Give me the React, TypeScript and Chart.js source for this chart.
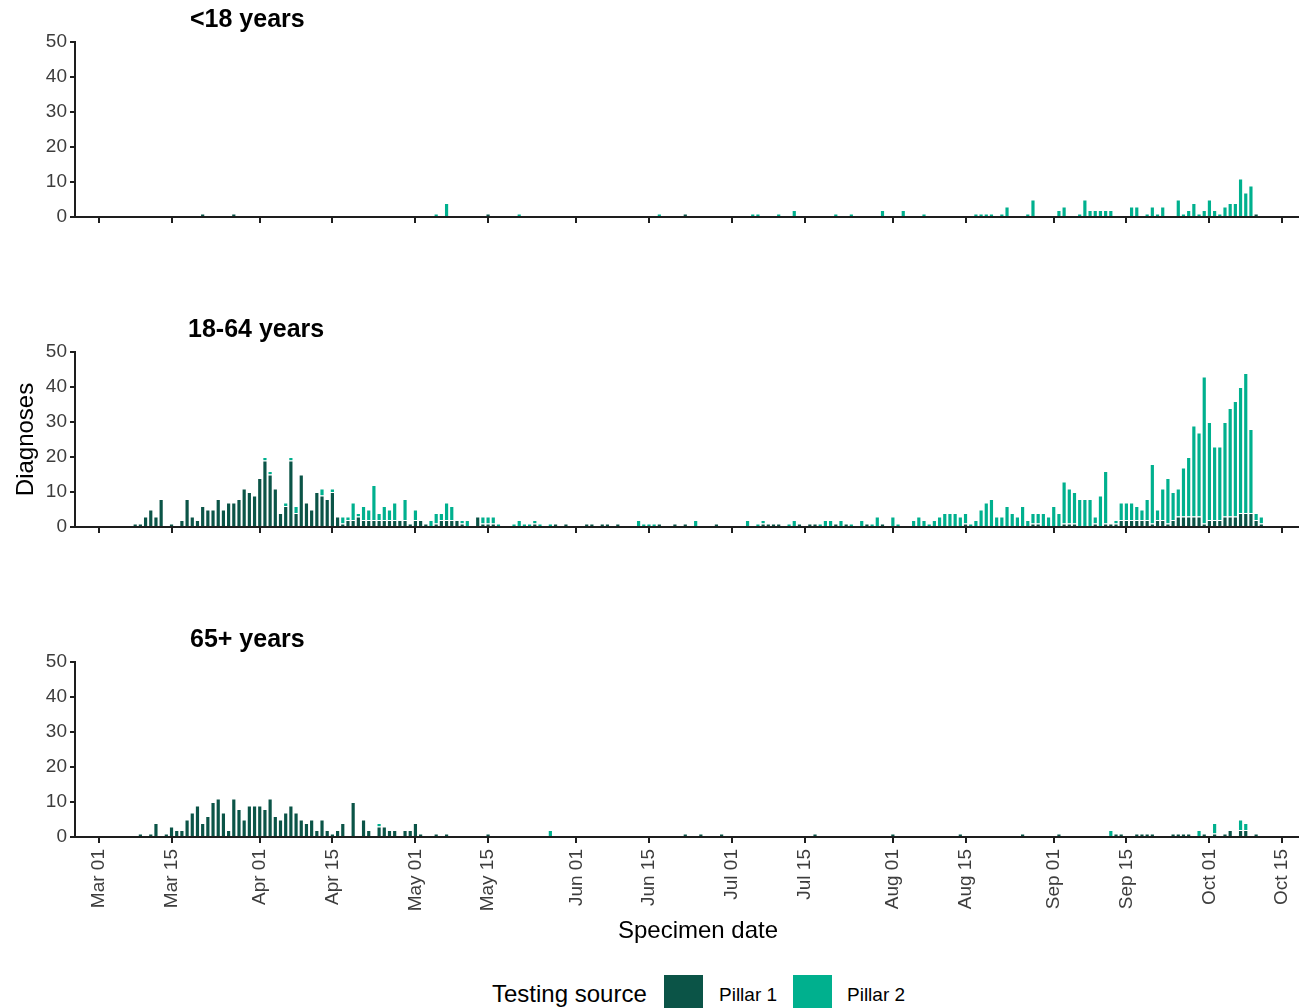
import React, { useEffect, useRef } from 'react';
import { Chart, registerables } from 'chart.js';

Chart.register(...registerables);

const FONT = '"Liberation Sans", Arial, Helvetica, sans-serif';
Chart.defaults.font.family = FONT;

// ---- categories / labels ----
const AGE_GROUPS = ['<18 years', '18-64 years', '65+ years'];
const SERIES_NAMES = ['Pillar 1', 'Pillar 2'];
const LEGEND_TITLE = 'Testing source';
const X_TITLE = 'Specimen date';
const Y_TITLE = 'Diagnoses';
// x values are days since 01 Mar (index 0 = Mar 01 ... index 224 = Oct 11)
const X_TICK_DAYS = [0, 14, 31, 45, 61, 75, 92, 106, 122, 136, 153, 167, 184, 198, 214, 228];
const X_TICK_LABELS = ['Mar 01', 'Mar 15', 'Apr 01', 'Apr 15', 'May 01', 'May 15', 'Jun 01', 'Jun 15',
  'Jul 01', 'Jul 15', 'Aug 01', 'Aug 15', 'Sep 01', 'Sep 15', 'Oct 01', 'Oct 15'];
const Y_MAX = 50;
const Y_STEP = 10;

// ---- daily values (Mar 01 .. Oct 11), one line per month ----
const U18_PILLAR1 = [
  0,0,0,0,0,0,0,0,0,0, 0,0,0,0,0,0,0,0,0,0, 1,0,0,0,0,0,1,0,0,0, 0, // Mar
  0,0,0,0,0,0,0,0,0,0, 0,0,0,0,0,0,0,0,0,0, 0,0,0,0,0,0,0,0,0,0, // Apr
  0,0,0,0,0,0,0,0,0,0, 0,0,0,0,1,0,0,0,0,0, 0,0,0,0,0,0,0,0,0,0, 0, // May
  0,0,0,0,0,0,0,0,0,0, 0,0,0,0,0,0,0,0,0,0, 0,1,0,0,0,0,0,0,0,0, // Jun
  0,0,0,0,0,0,0,0,0,0, 0,0,0,0,0,0,0,0,0,0, 0,0,0,0,0,0,0,0,0,0, 0, // Jul
  0,0,0,0,0,0,0,0,0,0, 0,0,0,0,0,0,0,0,0,0, 0,0,0,0,0,0,0,0,0,0, 0, // Aug
  0,0,0,0,0,0,0,0,0,0, 0,0,0,0,0,0,0,0,0,0, 0,0,0,0,0,0,0,0,0,0, // Sep
  0,0,0,0,0,0,0,0,0,1,0, // Oct
];
const U18_PILLAR2 = [
  0,0,0,0,0,0,0,0,0,0, 0,0,0,0,0,0,0,0,0,0, 0,0,0,0,0,0,0,0,0,0, 0, // Mar
  0,0,0,0,0,0,0,0,0,0, 0,0,0,0,0,0,0,0,0,0, 0,0,0,0,0,0,0,0,0,0, // Apr
  0,0,0,0,1,0,4,0,0,0, 0,0,0,0,0,0,0,0,0,0, 1,0,0,0,0,0,0,0,0,0, 0, // May
  0,0,0,0,0,0,0,0,0,0, 0,0,0,0,0,0,1,0,0,0, 0,0,0,0,0,0,0,0,0,0, // Jun
  0,0,0,0,1,1,0,0,0,1, 0,0,2,0,0,0,0,0,0,0, 1,0,0,1,0,0,0,0,0,2, 0, // Jul
  0,0,2,0,0,0,1,0,0,0, 0,0,0,0,0,0,1,1,1,1, 0,1,3,0,0,0,1,5,0,0, 0, // Aug
  0,2,3,0,0,1,5,2,2,2, 2,2,0,0,0,3,3,0,1,3, 1,3,0,0,5,1,2,4,1,2, // Sep
  5,2,1,3,4,4,11,7,9,0,0, // Oct
];
const ADULT_PILLAR1 = [
  0,0,0,0,0,0,0,1,1,3, 5,3,8,0,1,0,2,8,3,2, 6,5,5,8,5,7,7,8,11,10, 9, // Mar
  14,19,15,11,4,6,19,4,15,7, 5,10,9,8,10,3,1,2,2,3, 2,2,2,2,2,2,2,2,2,1, // Apr
  2,2,1,0,1,2,2,2,2,1, 0,0,3,1,1,1,0,0,0,0, 0,0,0,1,0,0,0,1,0,1, 0, // May
  0,0,1,1,0,1,1,0,1,0, 0,0,0,0,0,0,1,0,0,1, 0,1,0,0,0,0,0,1,0,0, // Jun
  0,0,0,0,0,0,1,1,1,1, 0,0,0,1,0,1,1,0,0,0, 1,0,1,0,0,0,1,0,0,1, 0, // Jul
  0,0,0,0,0,0,0,0,0,0, 0,0,0,0,1,0,0,0,0,0, 0,0,0,0,0,0,0,1,1,0, 0, // Aug
  0,0,1,1,1,0,0,0,1,0, 1,1,1,2,2,2,2,2,2,1, 2,2,1,2,3,3,3,3,3,1, // Sep
  2,2,2,3,3,3,4,4,4,2,1, // Oct
];
const ADULT_PILLAR2 = [
  0,0,0,0,0,0,0,0,0,0, 0,0,0,0,0,0,0,0,0,0, 0,0,0,0,0,0,0,0,0,0, 0, // Mar
  0,1,1,0,0,1,1,2,0,0, 0,0,2,0,1,0,2,1,5,1, 4,3,10,2,4,3,5,0,6,0, // Apr
  3,0,0,2,3,2,5,4,0,1, 2,0,0,2,2,2,1,0,0,1, 2,1,1,1,1,0,1,0,0,0, 0, // May
  0,0,0,0,0,0,0,0,0,0, 0,0,2,1,1,1,0,0,0,0, 0,0,0,2,0,0,0,0,0,0, // Jun
  0,0,0,2,0,1,1,0,0,0, 0,1,2,0,0,0,0,1,2,2, 0,2,0,1,0,2,0,1,3,0, 0, // Jul
  3,1,0,0,2,3,2,1,2,3, 4,4,4,3,3,1,2,5,7,8, 3,3,6,4,3,6,2,3,3,4, 3, // Aug
  6,4,12,10,9,8,8,8,2,9, 15,0,1,5,5,5,4,3,6,17, 3,9,13,8,8,14,17,26,24,42, // Sep
  28,21,21,27,31,33,36,40,24,2,2, // Oct
];
const ELDERLY_PILLAR1 = [
  0,0,0,0,0,0,0,0,1,0, 1,4,0,1,3,2,2,5,7,9, 4,6,10,11,7,2,11,8,5,9, 9, // Mar
  9,8,11,6,5,7,9,7,5,4, 5,2,5,2,1,2,4,0,10,0, 5,2,0,3,3,2,2,0,2,2, // Apr
  4,1,0,0,1,0,1,0,0,0, 0,0,0,0,1,0,0,0,0,0, 0,0,0,0,0,0,0,0,0,0, 0, // May
  0,0,0,0,0,0,0,0,0,0, 0,0,0,0,0,0,0,0,0,0, 0,1,0,0,1,0,0,0,1,0, // Jun
  0,0,0,0,0,0,0,0,0,0, 0,0,0,0,0,0,1,0,0,0, 0,0,0,0,0,0,0,0,0,0, 0, // Jul
  1,0,0,0,0,0,0,0,0,0, 0,0,0,1,0,0,0,0,0,0, 0,0,0,0,0,1,0,0,0,0, 0, // Aug
  0,1,0,0,0,0,0,0,0,0, 0,0,1,1,0,0,1,1,1,1, 0,0,0,1,1,1,1,0,0,1, // Sep
  0,1,0,1,2,0,2,2,0,1,0, // Oct
];
const ELDERLY_PILLAR2 = [
  0,0,0,0,0,0,0,0,0,0, 0,0,0,0,0,0,0,0,0,0, 0,0,0,0,0,0,0,0,0,0, 0, // Mar
  0,0,0,0,0,0,0,0,0,0, 0,0,0,0,0,0,0,0,0,0, 0,0,0,1,0,0,0,0,0,0, // Apr
  0,0,0,0,0,0,0,0,0,0, 0,0,0,0,0,0,0,0,0,0, 0,0,0,0,0,0,2,0,0,0, 0, // May
  0,0,0,0,0,0,0,0,0,0, 0,0,0,0,0,0,0,0,0,0, 0,0,0,0,0,0,0,0,0,0, // Jun
  0,0,0,0,0,0,0,0,0,0, 0,0,0,0,0,0,0,0,0,0, 0,0,0,0,0,0,0,0,0,0, 0, // Jul
  0,0,0,0,0,0,0,0,0,0, 0,0,0,0,0,0,0,0,0,0, 0,0,0,0,0,0,0,0,0,0, 0, // Aug
  0,0,0,0,0,0,0,0,0,0, 0,2,0,0,0,0,0,0,0,0, 0,0,0,0,0,0,0,0,2,0, // Sep
  0,3,0,0,0,0,3,2,0,0,0, // Oct
];

// ---- styles ----
const C_P1 = '#0b5447';
const C_P2 = '#00b08e';
const C_AXIS = '#1e1e1e';
const C_TICK = '#3d3d3d';
const C_TEXT = '#000000';

const CANVAS_W = 1322;
const X_MIN = -4.6;
const X_MAX = 235.5;

type PanelProps = {
  top: number;
  height: number;
  axisHeight: number;
  p1: number[];
  p2: number[];
  showLabels?: boolean;
  yTitle?: string;
  xTitle?: string;
};

function Panel({ top, height, axisHeight, p1, p2, showLabels, yTitle, xTitle }: PanelProps) {
  const ref = useRef<HTMLCanvasElement | null>(null);
  useEffect(() => {
    if (!ref.current) return;
    const mk = (vals: number[]) => vals.map((v, i) => ({ x: i, y: v }));
    const chart = new Chart(ref.current, {
      type: 'bar',
      data: {
        datasets: [
          {
            label: SERIES_NAMES[0], data: mk(p1), backgroundColor: C_P1, borderColor: '#ffffff',
            borderWidth: 1, barPercentage: 1, categoryPercentage: 1, inflateAmount: 0,
          },
          {
            label: SERIES_NAMES[1], data: mk(p2), backgroundColor: C_P2, borderColor: '#ffffff',
            borderWidth: 1, barPercentage: 1, categoryPercentage: 1, inflateAmount: 0,
          },
        ],
      } as any,
      options: {
        animation: false,
        responsive: false,
        maintainAspectRatio: false,
        layout: { padding: { top: 42, left: 0, right: 1, bottom: 0 } },
        plugins: { legend: { display: false }, tooltip: { enabled: false }, title: { display: false } },
        scales: {
          x: {
            type: 'linear',
            stacked: true,
            min: X_MIN,
            max: X_MAX,
            offset: false,
            afterBuildTicks: (s: any) => { s.ticks = X_TICK_DAYS.map((v) => ({ value: v })); },
            afterFit: (s: any) => { s.height = axisHeight; },
            grid: { offset: false, drawOnChartArea: false, drawTicks: true, tickLength: 6, color: C_AXIS, lineWidth: 2 },
            border: { display: true, color: C_AXIS, width: 2 },
            ticks: {
              display: !!showLabels,
              autoSkip: false,
              minRotation: 90,
              maxRotation: 90,
              padding: 6,
              color: C_TICK,
              font: { family: FONT, size: 19 },
              callback: (v: any) => {
                const k = X_TICK_DAYS.indexOf(Number(v));
                return k >= 0 ? X_TICK_LABELS[k] : null;
              },
            },
            title: {
              display: !!xTitle,
              text: xTitle || '',
              color: C_TEXT,
              font: { family: FONT, size: 24 },
              padding: { top: 4, bottom: 4 },
            },
          },
          y: {
            stacked: true,
            min: 0,
            max: Y_MAX,
            afterFit: (s: any) => { s.width = 75; },
            grid: { offset: false, drawOnChartArea: false, drawTicks: true, tickLength: 5, color: C_AXIS, lineWidth: 2 },
            border: { display: true, color: C_AXIS, width: 2 },
            ticks: { stepSize: Y_STEP, padding: 3, color: C_TICK, font: { family: FONT, size: 19 } },
            title: {
              display: !!yTitle,
              text: yTitle || '',
              color: C_TEXT,
              font: { family: FONT, size: 24 },
              padding: { top: 12, bottom: 0 },
            },
          },
        },
      } as any,
    });
    return () => chart.destroy();
  }, []);
  return (
    <canvas
      ref={ref}
      width={CANVAS_W}
      height={height}
      style={{ position: 'absolute', left: 0, top, width: CANVAS_W, height, display: 'block' }}
    />
  );
}

const titleStyle = (left: number, top: number): React.CSSProperties => ({
  position: 'absolute', left, top, fontSize: 25, lineHeight: '25px', fontWeight: 'bold',
  color: C_TEXT, whiteSpace: 'nowrap', fontFamily: FONT,
});

export default function App() {
  return (
    <div style={{ position: 'absolute', left: 0, top: 0, width: 1299, height: 1008, overflow: 'hidden', background: '#fff', fontFamily: FONT }}>
      <Panel top={0} height={240} axisHeight={23} p1={U18_PILLAR1} p2={U18_PILLAR2} />
      <Panel top={310} height={240} axisHeight={23} p1={ADULT_PILLAR1} p2={ADULT_PILLAR2} yTitle={Y_TITLE} />
      <Panel top={620} height={330} axisHeight={113} p1={ELDERLY_PILLAR1} p2={ELDERLY_PILLAR2} showLabels xTitle={X_TITLE} />

      <div style={titleStyle(190, 6)}>{AGE_GROUPS[0]}</div>
      <div style={titleStyle(188, 316)}>{AGE_GROUPS[1]}</div>
      <div style={titleStyle(190, 626)}>{AGE_GROUPS[2]}</div>

      <div style={{ position: 'absolute', left: 492, top: 982, fontSize: 24, lineHeight: '24px', color: C_TEXT, whiteSpace: 'nowrap' }}>{LEGEND_TITLE}</div>
      <div style={{ position: 'absolute', left: 664, top: 975, width: 39, height: 39, background: C_P1 }} />
      <div style={{ position: 'absolute', left: 719, top: 985, fontSize: 19, lineHeight: '19px', color: C_TEXT, whiteSpace: 'nowrap' }}>{SERIES_NAMES[0]}</div>
      <div style={{ position: 'absolute', left: 793, top: 975, width: 39, height: 39, background: C_P2 }} />
      <div style={{ position: 'absolute', left: 847, top: 985, fontSize: 19, lineHeight: '19px', color: C_TEXT, whiteSpace: 'nowrap' }}>{SERIES_NAMES[1]}</div>
    </div>
  );
}
